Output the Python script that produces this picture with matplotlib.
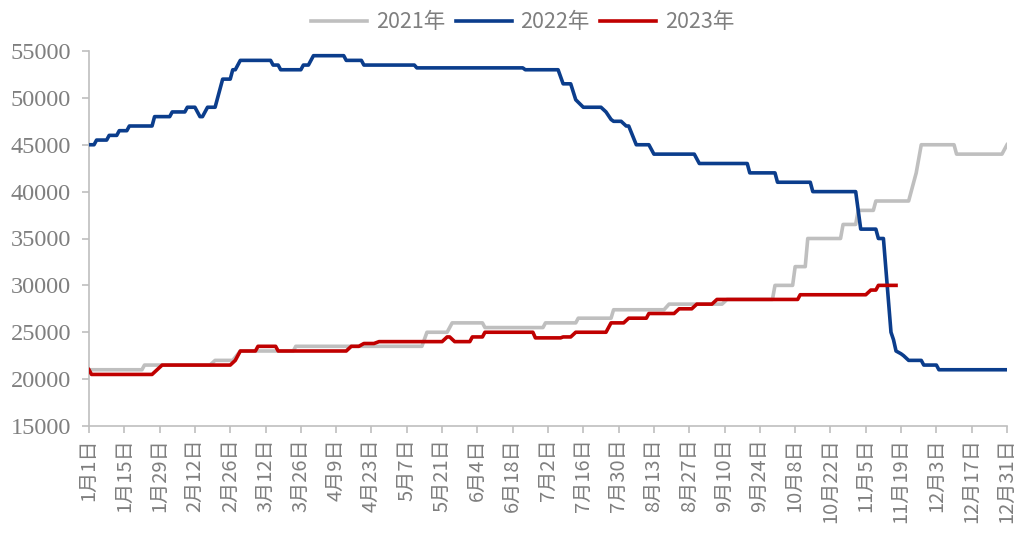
import numpy as np
import matplotlib
matplotlib.use("Agg")
import matplotlib.pyplot as plt

# día del año (0 = 1 de enero) y precio
days_2021 = [0, 21, 22, 48, 50, 57, 60, 81, 82, 132, 134, 142, 144, 156, 157, 180, 181,
             193, 194, 207, 208, 228, 230, 251, 253, 271, 272, 279, 280, 284, 285, 298, 299,
             304, 305, 311, 312, 325, 326, 328, 330, 343, 344, 362, 364]
vals_2021 = [21000, 21000, 21500, 21500, 22000, 22000, 23000, 23000, 23500, 23500, 25000,
             25000, 26000, 26000, 25500, 25500, 26000, 26000, 26500, 26500, 27400, 27400,
             28000, 28000, 28500, 28500, 30000, 30000, 32000, 32000, 35000, 35000, 36500,
             36500, 38000, 38000, 39000, 39000, 40000, 42000, 45000, 45000, 44000, 44000, 45000]

days_2022 = [0, 2, 3, 7, 8, 11, 12, 15, 16, 25, 26, 32, 33, 38, 39, 42, 44, 45, 47, 50,
             53, 56, 57, 58, 60, 72, 73, 75, 76, 84, 85, 87, 89, 101, 102, 108, 109, 129,
             130, 172, 173, 186, 188, 191, 193, 196, 203, 205, 207, 208, 211, 213, 214, 217,
             222, 224, 240, 242, 261, 262, 272, 273, 286, 287, 304, 306, 312, 313, 315, 318,
             319, 320, 322, 323, 325, 330, 331, 336, 337, 364]
vals_2022 = [45000, 45000, 45500, 45500, 46000, 46000, 46500, 46500, 47000, 47000, 48000,
             48000, 48500, 48500, 49000, 49000, 48000, 48000, 49000, 49000, 52000, 52000,
             53000, 53000, 54000, 54000, 53500, 53500, 53000, 53000, 53500, 53500, 54500,
             54500, 54000, 54000, 53500, 53500, 53200, 53200, 53000, 53000, 51500, 51500,
             49800, 49000, 49000, 48500, 47700, 47500, 47500, 47000, 47000, 45000, 45000,
             44000, 44000, 43000, 43000, 42000, 42000, 41000, 41000, 40000, 40000, 36000,
             36000, 35000, 35000, 25000, 24200, 23000, 22700, 22500, 22000, 22000, 21500,
             21500, 21000, 21000]

days_2023 = [0, 1, 25, 27, 29, 56, 58, 60, 66, 67, 74, 75, 102, 104, 107, 109, 113, 115,
             140, 142, 143, 145, 151, 152, 156, 157, 176, 177, 187, 188, 191, 193, 205, 207,
             212, 214, 221, 222, 232, 234, 239, 241, 247, 249, 281, 282, 308, 310, 312, 313, 320]
vals_2023 = [21000, 20500, 20500, 21000, 21500, 21500, 22000, 23000, 23000, 23500, 23500,
             23000, 23000, 23500, 23500, 23800, 23800, 24000, 24000, 24500, 24500, 24000,
             24000, 24500, 24500, 25000, 25000, 24400, 24400, 24500, 24500, 25000, 25000,
             26000, 26000, 26500, 26500, 27000, 27000, 27500, 27500, 28000, 28000, 28500,
             28500, 29000, 29000, 29500, 29500, 30000, 30000]

tick_days = list(range(0, 365, 14))
tick_labels = ["1月1日", "1月15日", "1月29日", "2月12日", "2月26日", "3月12日", "3月26日",
               "4月9日", "4月23日", "5月7日", "5月21日", "6月4日", "6月18日", "7月2日",
               "7月16日", "7月30日", "8月13日", "8月27日", "9月10日", "9月24日", "10月8日",
               "10月22日", "11月5日", "11月19日", "12月3日", "12月17日", "12月31日"]

GREY_TXT = "#7f7f7f"
AXIS_COL = "#bfbfbf"

fig = plt.figure(figsize=(10.21, 5.35), dpi=100)
ax = fig.add_axes([89 / 1021, 1 - 426 / 535, (1007 - 89) / 1021, (426 - 51) / 535])

ax.plot(days_2021, vals_2021, color="#bfbfbf", lw=2.6, label="2021年", zorder=2)
ax.plot(days_2022, vals_2022, color="#0b3d8c", lw=2.6, label="2022年", zorder=3)
ax.plot(days_2023, vals_2023, color="#c00000", lw=2.6, label="2023年", zorder=4)

ax.set_xlim(0, 364)
ax.set_ylim(15000, 55000)
ax.set_yticks(np.arange(15000, 55001, 5000))
ax.set_xticks(tick_days)
ax.set_xticklabels(tick_labels, rotation=90, fontsize=14.5, color=GREY_TXT,
                   family=["Noto Sans CJK SC", "DejaVu Sans"])
for lab in ax.get_yticklabels():
    lab.set_fontfamily("Liberation Serif")
    lab.set_fontsize(17.5)
    lab.set_color(GREY_TXT)

for s in ["top", "right"]:
    ax.spines[s].set_visible(False)
for s in ["left", "bottom"]:
    ax.spines[s].set_color(AXIS_COL)
    ax.spines[s].set_linewidth(1.2)
ax.tick_params(axis="both", color=AXIS_COL, length=5, width=1.2)
ax.tick_params(axis="y", pad=8)
ax.tick_params(axis="x", pad=4)

leg = fig.legend(loc="center", bbox_to_anchor=(0.512, 0.958), ncol=3, frameon=False,
                 prop={"family": ["Noto Sans CJK SC", "DejaVu Sans"], "size": 15.5},
                 handlelength=2.6, handletextpad=0.4, columnspacing=0.5)
for t in leg.get_texts():
    t.set_color(GREY_TXT)

fig.savefig("out.png", dpi=100)
